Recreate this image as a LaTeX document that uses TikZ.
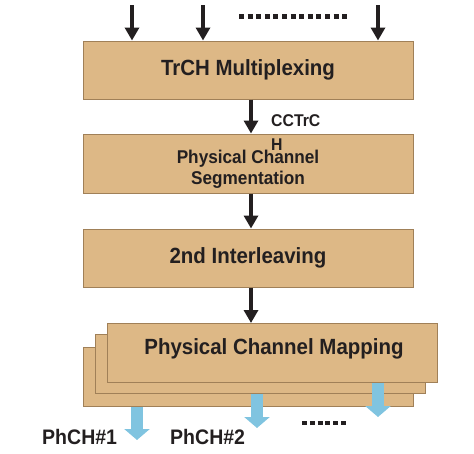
\documentclass[tikz,border=0pt]{standalone}
\usepackage{fontspec}
\setmainfont{Liberation Sans}[FakeStretch=0.93]
\usetikzlibrary{arrows.meta}
\definecolor{boxfill}{RGB}{221,184,134}
\definecolor{boxline}{RGB}{160,128,88}
\definecolor{txt}{RGB}{35,31,32}
\definecolor{blu}{RGB}{128,196,224}
\begin{document}
\begin{tikzpicture}[x=1pt,y=-1pt,
  box/.style={draw=boxline,line width=1pt,fill=boxfill,minimum width=330pt,minimum height=58pt,inner sep=0pt,text=txt,font=\bfseries\fontsize{22}{25}\selectfont,align=center},
  boxtext/.style={text=txt,inner sep=0pt,align=center},
  blk/.style={draw=txt,line width=4.5pt,-{Triangle[width=14pt,length=13pt]}},
  blu/.style={draw=blu,line width=12pt,-{Triangle[width=25pt,length=11pt]}},
  lbl/.style={text=txt,font=\bfseries\fontsize{21}{24}\selectfont,inner sep=0pt},
  dots/.style={draw=txt,line width=5pt,dash pattern=on 5pt off 3.6pt}
]
\useasboundingbox (0,0) rectangle (474,453);
% boxes
\node[box] (b1) at (248,70) {TrCH Multiplexing};
\node[box,minimum height=59pt] (b2) at (248,163.5) {};
\node[boxtext,font=\bfseries\fontsize{18.5}{22}\selectfont] (b2t) at (248,169) {Physical Channel\\[-1pt]Segmentation};
\node[box] (b3) at (248,258) {2nd Interleaving};
\node[box,minimum height=59pt] (m3) at (248,376.5) {};
\node[box,minimum height=59pt] (m2) at (260.5,363.5) {};
\node[box,minimum height=59pt] (m1) at (272.5,352.5) {};
\node[boxtext,font=\bfseries\fontsize{22}{25}\selectfont] (m1t) at (274,349) {Physical Channel Mapping};
% top inputs
\coordinate (i1) at (132,5);
\coordinate (i2) at (203,5);
\coordinate (i3) at (378,5);
\draw[blk] (i1) -- (i1 |- b1.north);
\draw[blk] (i2) -- (i2 |- b1.north);
\draw[blk] (i3) -- (i3 |- b1.north);
\coordinate (d1) at (239,16);
\coordinate (d2) at (350,16);
\draw[dots] (d1) -- (d2);
% vertical flow
\draw[blk] ([xshift=3pt]b1.south) -- ([xshift=3pt]b2.north);
\draw[blk] ([xshift=3pt]b2.south) -- ([xshift=3pt]b3.north);
\coordinate (a4) at (251,323);
\draw[blk] ([xshift=3pt]b3.south) -- (a4);
% label
\node[text=txt,font=\bfseries\fontsize{17}{24}\selectfont,inner sep=0pt,align=left,anchor=north west] (cc) at (271,114) {CCTrC\\H};
% outputs
\coordinate (o1) at (137,440);
\coordinate (o2) at (257,428);
\coordinate (o3) at (378,417);
\draw[blu] (o1 |- m3.south) -- (o1);
\draw[blu] (o2 |- m2.south) -- (o2);
\draw[blu] (o3 |- m1.south) -- (o3);
\node[lbl,anchor=west] (p1) at (42,437) {PhCH\#1};
\node[lbl,anchor=west] (p2) at (170,437) {PhCH\#2};
\coordinate (e1) at (302,423);
\coordinate (e2) at (348,423);
\draw[dots,line width=4.5pt,dash pattern=on 5pt off 2.8pt] (e1) -- (e2);
\end{tikzpicture}
\end{document}
